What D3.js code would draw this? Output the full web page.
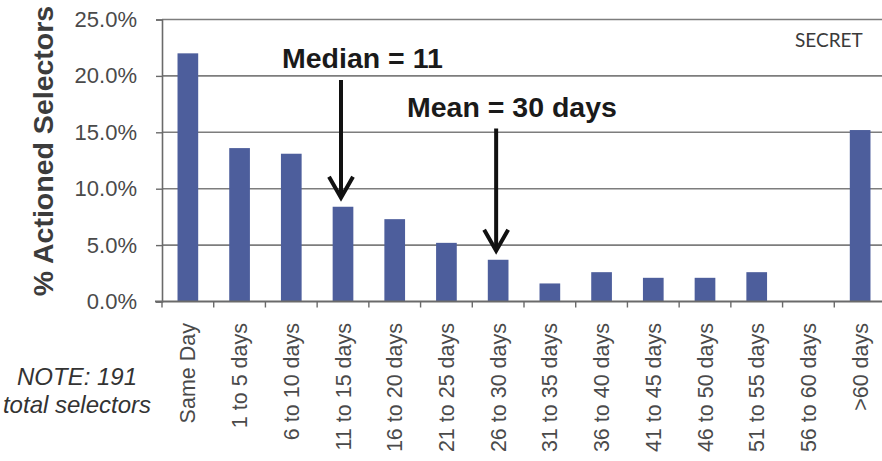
<!DOCTYPE html>
<html>
<head>
<meta charset="utf-8">
<script src="https://cdn.jsdelivr.net/npm/d3@7"></script>
<style>
  html, body { margin: 0; padding: 0; background: #ffffff; }
  svg { display: block; }
  text { font-family: "Liberation Sans", Arial, sans-serif; }
</style>
</head>
<body>
<svg id="chart" width="882" height="461"></svg>
<script>
// Share of actioned selectors by time to action (191 selectors in total)
const categories = [
  "Same Day", "1 to 5 days", "6 to 10 days", "11 to 15 days", "16 to 20 days",
  "21 to 25 days", "26 to 30 days", "31 to 35 days", "36 to 40 days",
  "41 to 45 days", "46 to 50 days", "51 to 55 days", "56 to 60 days", ">60 days"
];
const percentActioned = [22.0, 13.6, 13.1, 8.4, 7.3, 5.2, 3.7, 1.6, 2.6, 2.1, 2.1, 2.6, 0.0, 15.2];
const yTicks = [0, 5, 10, 15, 20, 25];
const annotations = [
  { text: "Median = 11", category: "11 to 15 days" },
  { text: "Mean = 30 days", category: "26 to 30 days" }
];
const noteLines = ["NOTE: 191", "total selectors"];
const yTitle = "% Actioned Selectors";
const marking = "SECRET";

const svg = d3.select("#chart");
const plot = { left: 162, right: 886, top: 19.5, bottom: 301.5 };

const x = d3.scaleBand()
  .domain(categories)
  .range([plot.left, plot.right])
  .paddingInner(0.6)
  .paddingOuter(0.3);

const y = d3.scaleLinear()
  .domain([0, 25])
  .range([plot.bottom, plot.top]);

// horizontal gridlines
svg.append("g")
  .selectAll("line")
  .data(yTicks.filter(d => d > 0))
  .join("line")
  .attr("x1", plot.left).attr("x2", plot.right)
  .attr("y1", d => y(d)).attr("y2", d => y(d))
  .attr("stroke", "#7d7d7d")
  .attr("stroke-width", 1.6);

// y axis
const yAxis = svg.append("g")
  .attr("transform", `translate(${plot.left},0)`)
  .call(d3.axisLeft(y).tickValues(yTicks).tickSize(6).tickPadding(19)
    .tickFormat(d => d.toFixed(1) + "%"));
yAxis.select(".domain").attr("stroke", "#6a6a6a").attr("stroke-width", 1.6);
yAxis.selectAll(".tick line").attr("stroke", "#6a6a6a").attr("stroke-width", 1.4);
yAxis.selectAll(".tick text")
  .attr("font-size", 22)
  .attr("fill", "#4a4a4a")
  .style("font-family", "'Liberation Sans', Arial, sans-serif");

// bars
svg.append("g")
  .selectAll("rect")
  .data(categories.map((c, i) => ({ c, v: percentActioned[i] })))
  .join("rect")
  .attr("x", d => x(d.c))
  .attr("width", x.bandwidth())
  .attr("y", d => y(d.v))
  .attr("height", d => y(0) - y(d.v))
  .attr("fill", "#4d5e9c");

// x axis with ticks at category boundaries
const step = x.step();
const boundaries = d3.range(categories.length + 1).map(i => plot.left + i * step);
const xAxisG = svg.append("g");
xAxisG.append("line")
  .attr("x1", plot.left - 7).attr("x2", plot.right)
  .attr("y1", y(0)).attr("y2", y(0))
  .attr("stroke", "#6a6a6a").attr("stroke-width", 1.8);
xAxisG.selectAll("line.tk")
  .data(boundaries)
  .join("line")
  .attr("class", "tk")
  .attr("x1", d => d).attr("x2", d => d)
  .attr("y1", y(0)).attr("y2", y(0) + 6)
  .attr("stroke", "#6a6a6a").attr("stroke-width", 1.4);
xAxisG.selectAll("text")
  .data(categories)
  .join("text")
  .attr("transform", d => `translate(${x(d) + x.bandwidth() / 2},323) rotate(-90)`)
  .attr("text-anchor", "end")
  .attr("dy", "0.35em")
  .attr("font-size", 21.5)
  .attr("fill", "#4a4a4a")
  .text(d => d);

// y axis title
svg.append("text")
  .attr("transform", "translate(53,151) rotate(-90)")
  .attr("text-anchor", "middle")
  .attr("font-size", 28.5)
  .attr("font-weight", "bold")
  .attr("fill", "#3c3c3c")
  .text(yTitle);

// median / mean annotations with arrows
const labelPos = [
  { x: 282, y: 68 },
  { x: 407, y: 116.5 }
];
annotations.forEach((a, i) => {
  const idx = categories.indexOf(a.category);
  const ax = x(a.category) + x.bandwidth() / 2 - 2;
  const tipY = y(percentActioned[idx]) - 9;
  const startY = labelPos[i].y + 12;
  svg.append("text")
    .attr("x", labelPos[i].x).attr("y", labelPos[i].y)
    .attr("font-size", 28.5)
    .attr("font-weight", "bold")
    .attr("fill", "#1a1a1a")
    .text(a.text);
  svg.append("line")
    .attr("x1", ax).attr("x2", ax)
    .attr("y1", startY).attr("y2", tipY - 2)
    .attr("stroke", "#111").attr("stroke-width", 4);
  svg.append("path")
    .attr("d", `M${ax - 12},${tipY - 21} L${ax},${tipY} L${ax + 12},${tipY - 21}`)
    .attr("fill", "none")
    .attr("stroke", "#111")
    .attr("stroke-width", 4)
    .attr("stroke-linejoin", "miter");
});

// classification marking
svg.append("text")
  .attr("x", 795).attr("y", 46.5)
  .attr("font-size", 19)
  .attr("fill", "#3a3a3a")
  .style("font-family", "Lato, 'Open Sans', sans-serif")
  .text(marking);

// note below the y axis
svg.append("text")
  .attr("x", 77).attr("y", 385)
  .attr("text-anchor", "middle")
  .attr("font-size", 24)
  .attr("font-style", "italic")
  .attr("fill", "#333")
  .selectAll("tspan")
  .data(noteLines)
  .join("tspan")
  .attr("x", 77)
  .attr("dy", (d, i) => i === 0 ? 0 : 28)
  .text(d => d);
</script>
</body>
</html>
